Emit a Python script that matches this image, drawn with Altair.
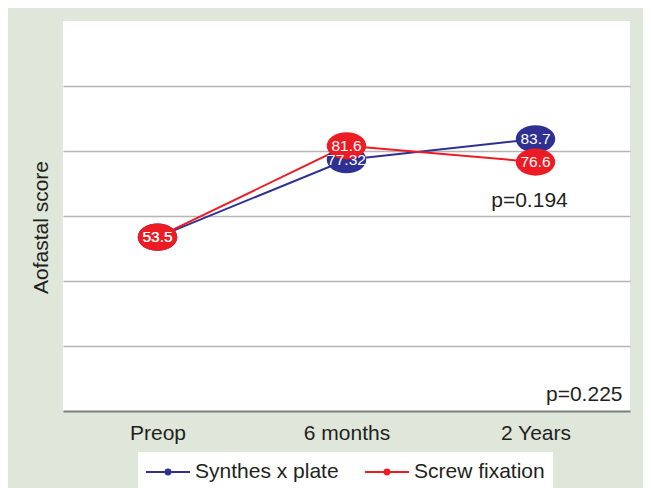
import altair as alt
import pandas as pd

timepoints = ["Preop", "6 months", "2 Years"]
series_names = ["Synthes x plate", "Screw fixation"]
synthes_values = [53.5, 77.32, 83.7]
screw_values = [53.5, 81.6, 76.6]
synthes_labels = ["53.5", "77.32", "83.7"]
screw_labels = ["53.5", "81.6", "76.6"]
series_colors = ["#2e3192", "#ed1c24"]
p_text = ["p=0.194", "p=0.225"]
p_time = ["2 Years", "2 Years"]
p_y = [62.9, 3.0]
grid_values = [20, 40, 60, 80, 100]

rows = []
for name, vals, labs in [(series_names[0], synthes_values, synthes_labels),
                         (series_names[1], screw_values, screw_labels)]:
    for i, t in enumerate(timepoints):
        rows.append({"time": t, "idx": i, "series": name, "value": vals[i], "label": labs[i]})
df = pd.DataFrame(rows)

ann1 = pd.DataFrame({"time": [p_time[0]], "value": [p_y[0]], "label": [p_text[0]]})
ann2 = pd.DataFrame({"time": [p_time[1]], "value": [p_y[1]], "label": [p_text[1]]})

FONT = "Liberation Sans"
TXT = "#231f20"

xscale = alt.Scale(domain=timepoints, type="point", padding=0.5)
yscale = alt.Scale(domain=[0, 120], nice=False)
cscale = alt.Scale(domain=series_names, range=series_colors)

x_enc = alt.X("time:N", scale=xscale, sort=timepoints,
              axis=alt.Axis(title=None, labelAngle=0, ticks=False, grid=False,
                            labelFontSize=21, labelFont=FONT, labelColor=TXT,
                            labelPadding=11, domainColor="#7f7f7f", domainWidth=2))
y_enc = alt.Y("value:Q", scale=yscale,
              axis=alt.Axis(values=grid_values, labels=False, ticks=False, domain=False,
                            grid=True, gridColor="#b5b5b5", gridWidth=1.5,
                            title="Aofastal score", titleFontSize=21, titleFont=FONT,
                            titleColor=TXT, titleFontWeight="normal",
                            titleAngle=270, titleX=-16, titleY=206,
                            titleBaseline="alphabetic", titleAlign="center"))

# line-with-dot legend glyph, drawn twice as wide as its nominal box
legend_symbol = ("M-2,0H2M-0.22,0A0.22,0.22 0 1,0 0.22,0A0.22,0.22 0 1,0 -0.22,0"
                 "M-0.08,0A0.08,0.08 0 1,0 0.08,0A0.08,0.08 0 1,0 -0.08,0")

lines = alt.Chart(df).mark_line(strokeWidth=2).encode(
    x=x_enc, y=y_enc,
    color=alt.Color("series:N", scale=cscale, sort=series_names,
                    legend=alt.Legend(title=None, orient="none", direction="horizontal",
                                      legendX=75, legendY=431, fillColor="white",
                                      padding=8, labelFontSize=21, labelFont=FONT,
                                      labelColor=TXT, labelOffset=15, columnPadding=22,
                                      symbolOffset=10,
                                      symbolType=legend_symbol, symbolSize=484,
                                      symbolStrokeWidth=2)),
    order=alt.Order("idx:Q"),
)

ellipse = "M-1,0A1,0.69 0 1,0 1,0A1,0.69 0 1,0 -1,0Z"
points = alt.Chart(df).mark_point(shape=ellipse, size=1560, filled=True, opacity=1).encode(
    x=alt.X("time:N", scale=xscale, sort=timepoints),
    y=alt.Y("value:Q", scale=yscale),
    fill=alt.Fill("series:N", scale=cscale, legend=None),
)

labels = alt.Chart(df).mark_text(color="white", fontSize=15.5, font=FONT,
                                 baseline="middle", align="center").encode(
    x=alt.X("time:N", scale=xscale, sort=timepoints),
    y=alt.Y("value:Q", scale=yscale),
    text="label:N",
)

p1 = alt.Chart(ann1).mark_text(fontSize=21, font=FONT, color=TXT, align="center",
                               baseline="alphabetic", dx=-6).encode(
    x=alt.X("time:N", scale=xscale, sort=timepoints),
    y=alt.Y("value:Q", scale=yscale),
    text="label:N",
)
p2 = alt.Chart(ann2).mark_text(fontSize=21, font=FONT, color=TXT, align="right",
                               baseline="alphabetic", dx=87).encode(
    x=alt.X("time:N", scale=xscale, sort=timepoints),
    y=alt.Y("value:Q", scale=yscale),
    text="label:N",
)

chart = alt.layer(lines, points, labels, p1, p2).resolve_scale(
    color="independent", fill="independent"
).properties(
    width=567, height=390,
    autosize=alt.AutoSizeParams(type="none"),
    padding={"left": 55, "top": 13, "right": 13, "bottom": 77},
    background="#dfe6da",
).configure_view(stroke=None, fill="white")

chart.save("out.html", embed_options={"renderer": "svg", "actions": False})
